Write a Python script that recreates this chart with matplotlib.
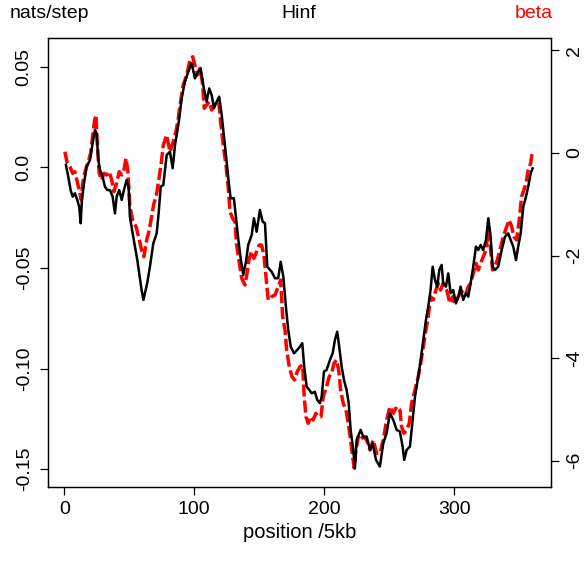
import numpy as np
import matplotlib
matplotlib.use("Agg")
import matplotlib.pyplot as plt

plt.rcParams['font.family'] = ['Liberation Sans', 'DejaVu Sans']

# black curve: Hinf (nats/step), left axis
pos_h = [1.3, 3.1, 4.9, 6.5, 8.2, 10.0, 11.5, 12.6, 13.6, 15.2, 17.2, 19.8, 21.8, 23.6, 24.9,
         26.2, 27.5, 29.5, 31.3, 33.1, 35.2, 37.2, 39.0, 40.3, 42.3, 44.2, 45.9, 48.0, 49.5,
         50.5, 52.6, 54.4, 56.2, 57.7, 59.5, 60.9, 63.8, 65.9, 68.5, 71.1, 72.6, 74.2, 76.2,
         78.8, 81.3, 83.4, 85.2, 86.9, 88.5, 90.3, 92.8, 95.4, 98.0, 100.5, 103.1, 104.9,
         106.9, 109.5, 111.5, 113.4, 115.2, 117.2, 119.2, 121.1, 122.8, 124.4, 126.2, 128.0,
         130.5, 132.1, 133.8, 135.7, 137.7, 139.8, 141.5, 144.2, 145.9, 148.0, 150.5, 152.6,
         154.4, 156.2, 159.5, 162.1, 164.6, 166.5, 168.5, 170.5, 172.3, 174.2, 176.7, 179.2,
         181.3, 183.1, 184.6, 186.5, 188.5, 190.3, 192.8, 194.6, 196.7, 198.0, 199.8, 201.8,
         204.4, 206.5, 208.2, 210.0, 211.5, 213.4, 215.2, 217.2, 218.8, 220.3, 222.3, 223.6,
         224.9, 228.0, 230.0, 232.6, 235.2, 237.2, 239.8, 242.8, 245.4, 248.0, 250.5, 253.1,
         255.7, 258.2, 260.3, 261.5, 263.4, 265.9, 268.0, 269.8, 272.3, 274.2, 276.2, 278.2,
         280.0, 281.8, 283.4, 285.2, 286.9, 288.5, 290.3, 291.5, 293.6, 295.4, 297.2, 299.2,
         301.3, 303.1, 304.9, 306.9, 309.0, 310.8, 312.6, 314.6, 316.7, 318.5, 320.3, 322.3,
         324.4, 326.2, 328.0, 329.5, 331.3, 333.8, 336.5, 339.0, 341.5, 343.4, 345.4, 347.5,
         349.2, 351.1, 353.1, 355.2, 356.9, 358.8, 360.3]
hinf = [0.0011, -0.0047, -0.0113, -0.0146, -0.0129, -0.0162, -0.0196, -0.0278, -0.0162,
        -0.0079, 0.0003, 0.0036, 0.0119, 0.0185, 0.0169, 0.0036, -0.0013, -0.0047, -0.0096,
        -0.0113, -0.0113, -0.0146, -0.0229, -0.0146, -0.0113, -0.0162, -0.0113, -0.0063,
        -0.0096, -0.0245, -0.0328, -0.0394, -0.0461, -0.0527, -0.0610, -0.0659, -0.0576,
        -0.0494, -0.0378, -0.0328, -0.0229, -0.0096, -0.0088, 0.0061, 0.0077, -0.0005, 0.0111,
        0.0177, 0.0243, 0.0343, 0.0425, 0.0475, 0.0517, 0.0442, 0.0475, 0.0492, 0.0409,
        0.0326, 0.0392, 0.0359, 0.0293, 0.0326, 0.0351, 0.0260, 0.0160, 0.0061, -0.0055,
        -0.0154, -0.0154, -0.0253, -0.0353, -0.0452, -0.0535, -0.0469, -0.0386, -0.0336,
        -0.0253, -0.0320, -0.0212, -0.0270, -0.0278, -0.0494, -0.0519, -0.0551, -0.0551,
        -0.0469, -0.0543, -0.0692, -0.0808, -0.0891, -0.0924, -0.0908, -0.0891, -0.0874,
        -0.0991, -0.1090, -0.1106, -0.1123, -0.1115, -0.1156, -0.1172, -0.1140, -0.1015,
        -0.1007, -0.0957, -0.0924, -0.0858, -0.0817, -0.0891, -0.0991, -0.1057, -0.1106,
        -0.1172, -0.1305, -0.1404, -0.1494, -0.1355, -0.1305, -0.1338, -0.1338, -0.1404,
        -0.1371, -0.1454, -0.1487, -0.1371, -0.1321, -0.1222, -0.1255, -0.1305, -0.1313,
        -0.1388, -0.1454, -0.1404, -0.1388, -0.1255, -0.1140, -0.1040, -0.0957, -0.0858,
        -0.0759, -0.0692, -0.0610, -0.0494, -0.0560, -0.0593, -0.0510, -0.0485, -0.0576,
        -0.0593, -0.0527, -0.0626, -0.0610, -0.0676, -0.0643, -0.0593, -0.0659, -0.0626,
        -0.0643, -0.0576, -0.0494, -0.0394, -0.0411, -0.0386, -0.0411, -0.0361, -0.0253,
        -0.0345, -0.0494, -0.0510, -0.0494, -0.0411, -0.0345, -0.0328, -0.0361, -0.0394,
        -0.0461, -0.0394, -0.0328, -0.0196, -0.0146, -0.0096, -0.0030, -0.0005]

# red dashed curve: beta, right axis
pos_b = [0.5, 2.3, 4.4, 6.5, 8.2, 10.0, 11.5, 13.1, 14.6, 16.7, 18.5, 20.3, 21.8, 23.4, 24.4,
         25.4, 26.9, 28.8, 30.5, 32.6, 34.6, 36.5, 38.2, 40.3, 42.3, 44.2, 45.9, 47.5, 49.0,
         50.5, 52.6, 55.2, 57.2, 59.5, 61.3, 63.4, 65.4, 67.2, 69.0, 71.1, 73.1, 74.9, 76.2,
         78.8, 81.3, 83.8, 85.9, 87.7, 89.5, 91.5, 94.2, 96.7, 98.8, 100.5, 102.3, 104.4,
         106.2, 107.7, 109.5, 111.5, 113.4, 115.2, 117.2, 118.8, 120.3, 122.3, 124.4, 126.2,
         127.5, 129.5, 131.3, 132.6, 134.6, 136.5, 139.0, 140.8, 142.3, 144.2, 145.9, 148.0,
         150.0, 151.8, 153.6, 155.2, 156.9, 159.5, 162.1, 164.6, 166.5, 168.0, 169.8, 171.1,
         173.1, 175.2, 177.2, 179.2, 181.3, 183.4, 184.6, 185.9, 187.7, 189.5, 191.5, 193.6,
         195.4, 197.5, 199.2, 201.8, 203.8, 205.7, 207.5, 209.5, 211.1, 212.6, 214.6, 216.7,
         218.5, 220.3, 221.8, 223.1, 224.4, 226.2, 227.5, 230.0, 232.6, 235.2, 237.7, 240.3,
         242.8, 245.4, 248.0, 250.5, 253.1, 255.7, 258.2, 259.5, 261.3, 263.4, 265.4, 267.2,
         269.8, 272.3, 274.2, 276.2, 278.2, 280.0, 281.8, 283.8, 285.9, 287.7, 289.5, 291.5,
         294.2, 296.7, 298.8, 300.5, 303.1, 304.9, 306.9, 309.0, 310.8, 312.6, 314.6, 316.7,
         318.5, 320.3, 322.3, 324.4, 326.2, 328.0, 329.5, 331.3, 333.1, 335.2, 337.7, 340.3,
         342.3, 344.2, 345.9, 348.0, 350.0, 351.8, 353.6, 355.2, 356.9, 358.8, 359.8]
beta = [0.025, -0.201, -0.267, -0.396, -0.365, -0.559, -0.721, -0.916, -0.526, -0.298,
        -0.170, -0.006, 0.318, 0.643, 0.741, 0.189, -0.396, -0.526, -0.396, -0.429, -0.365,
        -0.526, -0.754, -0.591, -0.365, -0.429, -0.331, -0.103, -0.365, -1.047, -1.306,
        -1.437, -1.632, -1.891, -2.021, -1.696, -1.501, -1.242, -0.981, -0.786, -0.462,
        -0.136, 0.156, 0.351, 0.025, 0.220, 0.415, 0.676, 1.000, 1.326, 1.520, 1.813, 1.877,
        1.715, 1.520, 1.651, 1.390, 0.871, 0.936, 1.000, 0.838, 0.936, 0.969, 1.000, 0.610,
        0.156, -0.234, -0.688, -1.144, -1.273, -1.339, -1.793, -2.119, -2.442, -2.573,
        -2.314, -2.053, -1.924, -2.053, -1.924, -1.793, -1.793, -1.988, -2.411, -2.865,
        -2.801, -2.768, -2.606, -2.476, -3.191, -3.450, -3.840, -4.166, -4.361, -4.425,
        -4.263, -4.166, -4.133, -4.750, -5.140, -5.269, -5.140, -5.205, -5.074, -5.140,
        -5.140, -4.750, -4.556, -4.361, -4.294, -4.099, -4.035, -4.230, -4.620, -4.879,
        -5.010, -5.269, -5.595, -5.920, -6.146, -5.789, -5.530, -5.595, -5.530, -5.595,
        -5.789, -5.595, -5.854, -5.854, -5.595, -5.205, -4.945, -5.074, -4.945, -5.010,
        -5.335, -5.464, -5.400, -5.269, -4.879, -4.620, -4.361, -4.099, -3.776, -3.450,
        -3.191, -2.801, -2.865, -2.671, -2.540, -2.671, -2.540, -2.671, -2.930, -2.801,
        -2.930, -2.801, -2.735, -2.671, -2.735, -2.606, -2.540, -2.345, -2.150, -2.281,
        -2.150, -2.021, -1.891, -1.501, -1.891, -2.281, -2.216, -2.086, -1.891, -1.632,
        -1.437, -1.306, -1.437, -1.632, -1.696, -1.306, -0.852, -0.721, -0.591, -0.331,
        -0.201, -0.019]

x_ticks = [0, 100, 200, 300]
left_ticks = [-0.15, -0.10, -0.05, 0.0, 0.05]
left_labels = ["-0.15", "-0.10", "-0.05", "0.0", "0.05"]
right_ticks = [-6, -4, -2, 0, 2]

fig = plt.figure(figsize=(5.86, 5.66), dpi=100)
ax = fig.add_axes([48 / 586, 1 - 486.7 / 566, 502.7 / 586, 448.4 / 566])
ax2 = ax.twinx()

ax.plot(pos_h, hinf, color="black", lw=1.8, zorder=3)
ax2.plot(pos_b, beta, color="red", lw=2.5, dashes=(3.5, 1.1))

ax.set_xlim(-12.5, 374.2)
ax.set_ylim(-0.1587, 0.0641)
ax2.set_ylim(-6.505, 2.236)

ax.set_xticks(x_ticks)
ax.set_yticks(left_ticks)
ax.set_yticklabels(left_labels, rotation=90, va="center")
ax2.set_yticks(right_ticks)
ax2.set_yticklabels([str(t) for t in right_ticks], rotation=90, va="center")

for a in (ax, ax2):
    a.tick_params(direction="out", length=6, width=0.9, labelsize=14, pad=5)
    for s in a.spines.values():
        s.set_linewidth(0.9)
ax.tick_params(axis="x", pad=4)
ax.set_zorder(ax2.get_zorder() + 1)
ax.patch.set_visible(False)

ax.set_xlabel("position /5kb", fontsize=14.5, labelpad=4)
fig.text(10 / 586, 1 - 14 / 566, "nats/step", fontsize=14, ha="left", va="center")
fig.text(299 / 586, 1 - 14 / 566, "Hinf", fontsize=14, ha="center", va="center")
fig.text(553 / 586, 1 - 14 / 566, "beta", fontsize=14, ha="right", va="center", color="red")

fig.savefig("out.png", dpi=100)
